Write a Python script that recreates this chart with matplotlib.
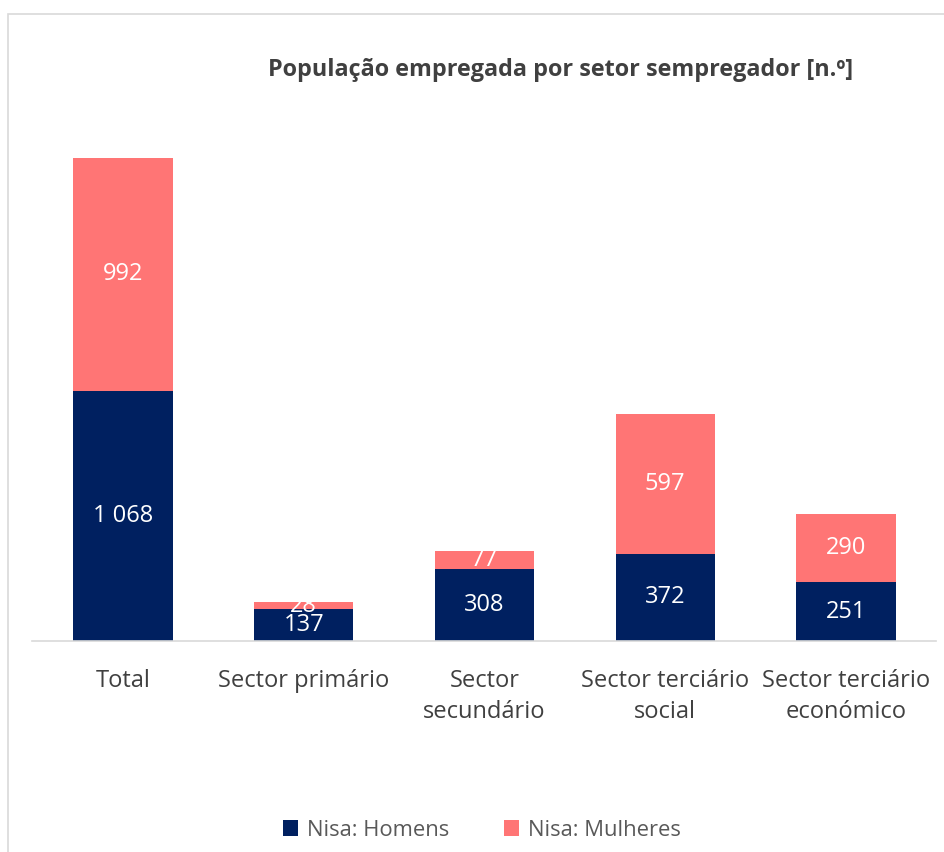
import matplotlib
matplotlib.use("Agg")
import matplotlib.pyplot as plt
from matplotlib.patches import Rectangle

categories = ["Total", "Sector primário", "Sector\nsecundário", "Sector terciário\nsocial", "Sector terciário\neconómico"]
homens = [1068, 137, 308, 372, 251]
mulheres = [992, 28, 77, 597, 290]
series_names = ["Nisa: Homens", "Nisa: Mulheres"]

def fmt(v):
    return f"{v:,}".replace(",", " ")

plt.rcParams['font.family'] = ['Open Sans', 'DejaVu Sans']
fig = plt.figure(figsize=(9.45, 8.52), dpi=100)
# outer chart border
fig.patches.append(Rectangle((8/945, -0.01), 1.0, (852-14)/852 + 0.01, transform=fig.transFigure,
                             fill=False, edgecolor="#d9d9d9", linewidth=1.2))
ax = fig.add_axes([32.5/945, (852-641)/852, 904/945, 0.6056])
navy = "#002060"
pink = "#FF7575"
x = list(range(len(categories)))
b1 = ax.bar(x, homens, width=0.55, color=navy, label=series_names[0])
b2 = ax.bar(x, mulheres, width=0.55, bottom=homens, color=pink, label=series_names[1])
for i in x:
    ax.text(i, homens[i]/2, fmt(homens[i]), ha="center", va="center", color="white", fontsize=17)
    ax.text(i, homens[i] + mulheres[i]/2, fmt(mulheres[i]), ha="center", va="center", color="white", fontsize=17)

ax.set_xlim(-0.5, len(categories) - 0.5)
ax.set_ylim(0, 2200)
ax.set_yticks([])
for s in ["top", "right", "left"]:
    ax.spines[s].set_visible(False)
ax.spines["bottom"].set_color("#d9d9d9")
ax.spines["bottom"].set_linewidth(1.2)
ax.set_xticks(x)
ax.set_xticklabels(categories, fontsize=17, color="#404040", linespacing=1.4)
ax.tick_params(axis="x", length=0, pad=20)

fig.text(0.593, 1 - 70/852, "População empregada por setor sempregador [n.º]", ha="center", va="center",
         fontsize=16.8, fontweight="bold", color="#404040")

fig.legend(handles=[b1, b2], labels=series_names, loc="center", bbox_to_anchor=(0.51, 1 - 830/852),
           ncol=2, frameon=False, fontsize=15.8, handlelength=0.7, handleheight=0.7, columnspacing=2.5,
           handletextpad=0.4, labelcolor="#595959")

fig.savefig("out.png", dpi=100)
